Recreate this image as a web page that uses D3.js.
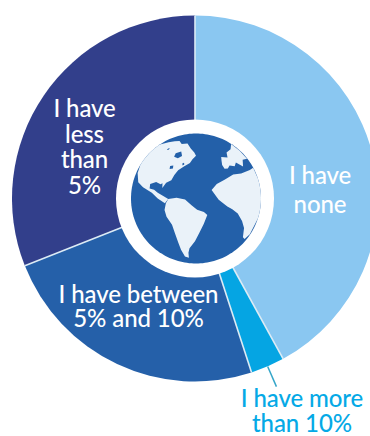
<!DOCTYPE html>
<html><head><meta charset="utf-8">
<script src="https://cdn.jsdelivr.net/npm/d3@7"></script>
<style>html,body{margin:0;padding:0;background:#fff;overflow:hidden}svg{display:block}
text{font-family:Lato,sans-serif;font-size:24px;font-weight:500;letter-spacing:-.1px;text-anchor:middle}</style>
</head><body><svg width="370" height="436"></svg>
<script>
// Share of respondents per answer, clockwise from twelve o'clock
const categories = ["I have none", "I have more than 10%", "I have between 5% and 10%", "I have less than 5%"];
const values = [42, 3, 24, 31];
const sliceColors = ["#8AC7F1", "#05A5E3", "#2560A9", "#323F8B"];

// One entry per slice: text lines and where the first baseline sits
const labelLines = [["I have", "none"], ["I have more", "than 10%"], ["I have between", "5% and 10%"], ["I have", "less", "than", "5%"]];
const labelColors = ["#fff", "#05A9E6", "#fff", "#fff"];
const labelAnchors = [[320, 184], [302, 407], [138.5, 303], [84.5, 117]];
const labelLeading = [29, 25, 24, 25.7];

// Stylised coastlines as [lon, lat] rings, wound clockwise on the sphere
const northAmerica = [[-150,55],[-129,65],[-118,70],[-105,73],[-85,70],[-70,72],[-56,65],[-48,60],[-45,56],[-50,52],[-53,48],[-60,44],[-66,40],[-69,35],[-71,30],[-76,27],[-79,22],[-80,26],[-82,25],[-88,26],[-95,23],[-94,19],[-88,19],[-83,17],[-76,15],[-71,13],[-74,9],[-82,12],[-90,16],[-104,18],[-116,20],[-145,30],[-170,45]];
const southAmerica = [[-71,13],[-63,15],[-55,14],[-49,9],[-44,5],[-38,3],[-35,0],[-38,-8],[-42,-17],[-46,-26],[-52,-35],[-54,-42],[-55,-51],[-60,-49],[-62,-38],[-63,-29],[-65,-18],[-67,-10],[-72,-3],[-74,3],[-73,9]];
const africa = [[-14,30],[-2,33],[10,32],[30,31],[50,28],[50,-5],[28,-30],[18,-33],[10.6,-29],[6,-18],[1,-10],[-5,-2],[-11,3],[-16,6],[-24,13],[-30,22],[-24,27]];
const europe = [[-11,44],[-9,48],[-6,52],[4,50],[10,55],[27,56],[60,56],[50,38],[30,42],[20,37],[12,43],[6,40],[-1,42],[-5.6,39.5],[-10,40]];
const landRings = [northAmerica, southAmerica, africa, europe];

// Inland water and small channels, painted over the land
const hudsonBay = [[-80,57],[-72,60],[-67,55],[-72,52],[-79,53]];
const greatLakes = [[-78,43],[-74,44],[-73,41],[-77,40]];
const arcticChannel = [[-104,60],[-101,61],[-100,59],[-103,58]];
const labradorInlet = [[-63,47],[-61,48],[-60,46],[-62,45]];
const waterRings = [hudsonBay, greatLakes, arcticChannel, labradorInlet];

const center = [195, 198.5];
const svg = d3.select("svg");
const chart = svg.append("g").attr("transform", `translate(${center})`);

const pie = d3.pie().sort(null)(values);
const outerR = 183;
const arc = d3.arc().innerRadius(0).outerRadius(outerR);
chart.selectAll("path.slice").data(pie).join("path")
  .attr("class", "slice")
  .attr("d", arc)
  .attr("fill", (d, i) => sliceColors[i]);

// Thin pale rules between neighbouring slices
chart.selectAll("line.sep").data(pie).join("line")
  .attr("class", "sep")
  .attr("x2", d => d3.pointRadial(d.startAngle, outerR)[0])
  .attr("y2", d => d3.pointRadial(d.startAngle, outerR)[1])
  .attr("stroke", "#dcebf5").attr("stroke-width", 1.6);

// Leader from the narrow slice down to its label
const leadAngle = (pie[1].startAngle + pie[1].endAngle) / 2;
const leadStart = d3.pointRadial(leadAngle, outerR);
const leadEnd = d3.pointRadial(leadAngle, 205);
chart.append("line")
  .attr("x1", leadStart[0]).attr("y1", leadStart[1])
  .attr("x2", leadEnd[0]).attr("y2", leadEnd[1])
  .attr("stroke", "#35A6C9").attr("stroke-width", 1.5);

// Globe badge in the middle
const globeR = 65;
const oceanColor = "#2360A9";
chart.append("circle").attr("r", 79).attr("fill", "#fff");
const projection = d3.geoOrthographic().scale(globeR).translate([1, 0]).rotate([45, -15, 0]).clipAngle(90);
const geoPath = d3.geoPath(projection);
const ringPath = ring => geoPath({type: "Polygon", coordinates: [[...ring, ring[0]]]});
chart.append("path").datum({type: "Sphere"}).attr("d", geoPath).attr("fill", oceanColor);
chart.selectAll("path.land").data(landRings).join("path")
  .attr("class", "land").attr("d", ringPath).attr("fill", "#EAF2F9");
chart.selectAll("path.water").data(waterRings).join("path")
  .attr("class", "water").attr("d", ringPath).attr("fill", oceanColor);

// Slice labels
svg.selectAll("g.label").data(labelLines).join("g")
  .attr("class", "label")
  .attr("transform", (d, i) => `translate(${labelAnchors[i]})`)
  .each(function (lines, i) {
    d3.select(this).selectAll("text").data(lines).join("text")
      .attr("y", (d, j) => j * labelLeading[i])
      .attr("fill", labelColors[i])
      .text(d => d);
  });
</script></body></html>
